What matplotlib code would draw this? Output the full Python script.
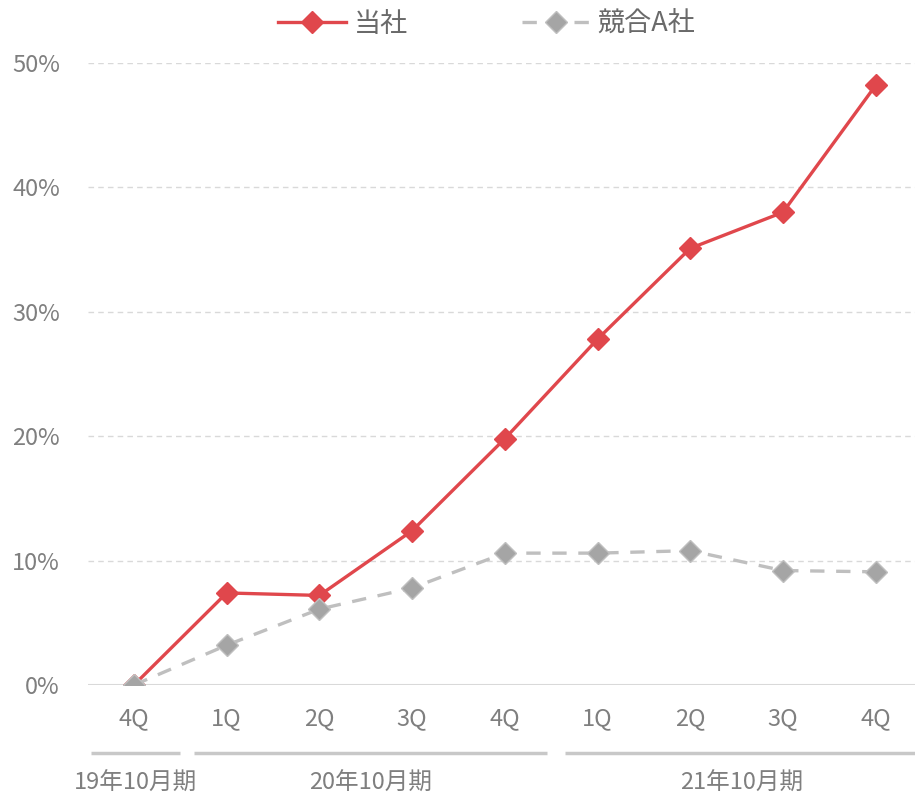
import matplotlib
matplotlib.use('Agg')
import matplotlib.pyplot as plt
import matplotlib.transforms as mtransforms

plt.rcParams['font.family'] = ['Noto Sans CJK JP', 'DejaVu Sans']

# quarterly growth rate (%)
quarters = ['4Q', '1Q', '2Q', '3Q', '4Q', '1Q', '2Q', '3Q', '4Q']
ours = [0.0, 7.4, 7.2, 12.4, 19.8, 27.8, 35.1, 38.0, 48.2]
rival = [0.0, 3.2, 6.1, 7.8, 10.6, 10.6, 10.8, 9.2, 9.1]
series_names = ['当社', '競合A社']

# fiscal year groups: (label, first index, last index)
fiscal_years = [('19年10月期', 0, 0), ('20年10月期', 1, 4), ('21年10月期', 5, 8)]

text_color = '#7F7F7F'
red = '#E0474C'
grey_line = '#BFBFBF'
grey_mark = '#A5A5A5'
grid_color = '#D9D9D9'

W, H = 915, 797
fig = plt.figure(figsize=(W / 100, H / 100), dpi=100)
ax = fig.add_axes([87.6 / W, (H - 685) / H, (922 - 87.6) / W, 622 / H])

x = list(range(len(quarters)))
ax.plot(x, ours, color=red, lw=2.4, marker='D', ms=11,
        mfc=red, mec=red, label=series_names[0], zorder=3)
ax.plot(x, rival, color=grey_line, lw=2.4, ls=(0, (4.3, 3.5)), marker='D', ms=11,
        mfc=grey_mark, mec=grey_line, mew=1, label=series_names[1], zorder=4)

ax.set_xlim(-0.5, len(quarters) - 0.5)
ax.set_ylim(0, 50)
ax.set_yticks(range(0, 51, 10))
ax.set_yticklabels([f'{v}%' for v in range(0, 51, 10)])
ax.set_xticks(x)
ax.set_xticklabels(quarters)
ax.tick_params(length=0, labelsize=17, labelcolor=text_color)
ax.tick_params(axis='y', pad=20)
ax.tick_params(axis='x', pad=16)

for v in range(10, 51, 10):
    ax.axhline(v, color=grid_color, lw=1, ls=(0, (4, 3)), zorder=1)
ax.axhline(0, color=grid_color, lw=1.5, zorder=1)
for s in ax.spines.values():
    s.set_visible(False)

# fiscal year brackets under the quarter labels
trans = mtransforms.blended_transform_factory(ax.transData, ax.transAxes)
for i, (name, first, last) in enumerate(fiscal_years):
    left = first - 0.5 + (0.04 if i == 0 else 0.15)
    right = last + 0.5 - (0.0 if i == 0 else 0.04)
    ax.plot([left, right], [-0.109, -0.109], color='#C8C8C8', lw=2.5,
            transform=trans, clip_on=False, solid_capstyle='butt')
    ax.text((left + right) / 2, -0.158, name, transform=trans, ha='center',
            va='center', fontsize=17, color=text_color)

fig.legend(loc='center', bbox_to_anchor=(0.532, 1 - 24 / H), ncol=2, frameon=False,
           fontsize=19.5, labelcolor='#6A6A6A', handlelength=2.5,
           columnspacing=4.2, handletextpad=0.3)

fig.savefig('out.png', dpi=100, facecolor='white')
